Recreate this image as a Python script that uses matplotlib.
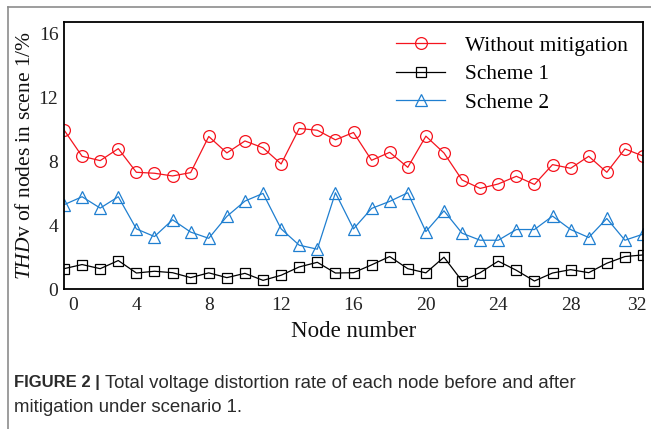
import matplotlib
matplotlib.use("Agg")
import matplotlib.pyplot as plt
import matplotlib.transforms as mtransforms
import numpy as np

# THDv of each node in scene 1 (%)
nodes = np.arange(0, 33)
without_mitigation = [9.95, 8.30, 8.03, 8.78, 7.30, 7.24, 7.07, 7.28, 9.54, 8.51,
                      9.26, 8.83, 7.82, 10.04, 9.93, 9.33, 9.79, 8.05, 8.55, 7.61,
                      9.56, 8.51, 6.82, 6.29, 6.57, 7.05, 6.54, 7.78, 7.55, 8.30,
                      7.30, 8.76, 8.32]
scheme1 = [1.27, 1.53, 1.27, 1.78, 1.00, 1.11, 1.02, 0.71, 1.01, 0.71,
           0.98, 0.54, 0.86, 1.38, 1.67, 1.00, 1.02, 1.51, 2.03, 1.27,
           1.01, 1.99, 0.50, 1.02, 1.74, 1.17, 0.50, 1.00, 1.21, 1.02,
           1.61, 2.03, 2.13]
scheme2 = [5.27, 5.77, 5.06, 5.77, 3.76, 3.28, 4.33, 3.56, 3.17, 4.54,
           5.50, 5.98, 3.76, 2.74, 2.49, 6.02, 3.76, 5.04, 5.48, 6.02,
           3.59, 4.89, 3.49, 3.05, 3.05, 3.72, 3.72, 4.56, 3.72, 3.22,
           4.41, 3.05, 3.43]
x_ticks = [0, 4, 8, 12, 16, 20, 24, 28, 32]
y_ticks = [0, 4, 8, 12, 16]

plt.rcParams['font.family'] = ['Liberation Serif', 'DejaVu Serif']
plt.rcParams['mathtext.fontset'] = 'custom'
plt.rcParams['mathtext.rm'] = 'Liberation Serif'
plt.rcParams['mathtext.it'] = 'Liberation Serif:italic'

W, H = 651, 429
fig = plt.figure(figsize=(W / 100, H / 100), dpi=100)
ax = fig.add_axes([64 / W, 1 - 289 / H, (643 - 64) / W, (289 - 22) / H])

ax.plot(nodes, without_mitigation, color='#f5141e', lw=0.9, marker='o', ms=8.5,
        mfc='none', mew=0.9, label='Without mitigation')
ax.plot(nodes, scheme1, color='black', lw=0.9, marker='s', ms=7.5,
        mfc='none', mew=0.9, label='Scheme 1')
ax.plot(nodes, scheme2, color='#1f7fd0', lw=0.9, marker='^', ms=8.5,
        mfc='none', mew=0.9, label='Scheme 2')

ax.set_xlim(0, 32)
ax.set_ylim(0, 16.7)
ax.set_xticks(x_ticks)
ax.set_yticks(y_ticks)
ax.tick_params(length=0, labelsize=14, colors='#222222')
ax.tick_params(axis='x', pad=6)
ax.tick_params(axis='y', pad=4)
for s in ax.spines.values():
    s.set_linewidth(1.3)

# end labels sit slightly inside in the original
xl = ax.get_xticklabels()
xl[0].set_transform(xl[0].get_transform() + mtransforms.ScaledTranslation(0.09, 0, fig.dpi_scale_trans))
xl[-1].set_transform(xl[-1].get_transform() + mtransforms.ScaledTranslation(-0.06, 0, fig.dpi_scale_trans))

ax.set_xlabel('Node number', fontsize=16.5, labelpad=5, color='#111111')
ax.set_ylabel(r'$\mathit{THD}$v of nodes in scene 1/%', fontsize=15.5, color='#111111')
ax.yaxis.set_label_coords(-0.05, 0.5)

ax.legend(loc='upper right', bbox_to_anchor=(1.007, 1.02), frameon=False, fontsize=15.4,
          handlelength=2.25, handletextpad=0.95, labelspacing=0.4)

# outer frame lines of the figure panel
fig.add_artist(plt.Line2D([8 / W, 1], [1 - 7 / H, 1 - 7 / H], color='#8c8c8c', lw=1.2))
fig.add_artist(plt.Line2D([8 / W, 8 / W], [0, 1 - 7 / H], color='#8c8c8c', lw=1.2))

# caption
cap_y1 = 1 - 383 / H
fig.text(14 / W, cap_y1, 'FIGURE 2 |', family='Liberation Sans', weight='bold',
         fontsize=12.0, color='#2b2b2b', va='center')
fig.text(105 / W, cap_y1, 'Total voltage distortion rate of each node before and after',
         family='Liberation Sans', fontsize=13.4, color='#2b2b2b', va='center')
fig.text(14 / W, 1 - 408 / H, 'mitigation under scenario 1.',
         family='Liberation Sans', fontsize=13.4, color='#2b2b2b', va='center')

fig.savefig('out.png', dpi=100)
